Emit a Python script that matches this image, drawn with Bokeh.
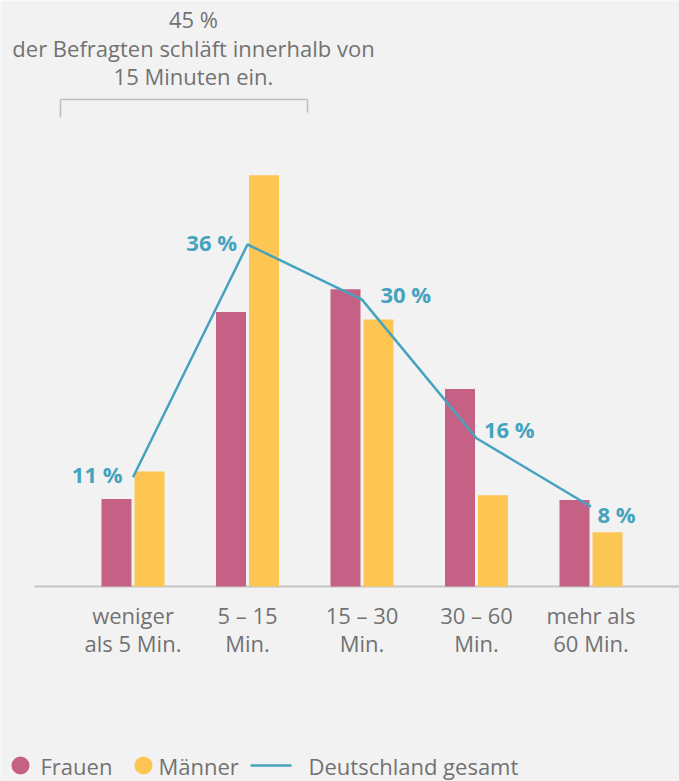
from bokeh.plotting import figure
from bokeh.models import ColumnDataSource, Range1d
from bokeh.core.properties import value
from bokeh.embed import file_html
from bokeh.resources import INLINE

# ---------------- data ----------------
categories = ["weniger\nals 5 Min.", "5 – 15\nMin.", "15 – 30\nMin.", "30 – 60\nMin.", "mehr als\n60 Min."]
frauen = [9.2, 28.9, 31.3, 20.8, 9.1]
maenner = [12.1, 43.3, 28.1, 9.6, 5.7]
gesamt = [11.5, 36.0, 30.2, 15.6, 8.4]
gesamt_labels = ["11 %", "36 %", "30 %", "16 %", "8 %"]
legend_labels = ["Frauen", "Männer", "Deutschland gesamt"]
note_lines = ["45 %", "der Befragten schläft innerhalb von", "15 Minuten ein."]

# ---------------- styling ----------------
BG = "#f2f2f2"
PINK = "#c66186"
YELLOW = "#fdc652"
TEAL = "#45a3be"
GREY_TXT = "#727272"
FONT = value("Open Sans")
FS = "22px"

# pixel geometry helpers (layout only)
X0, DXP = 132.5, 114.5   # x of first category centre, px per category
Y0, DYP = 586.0, 9.5     # y of baseline, px per percent


def dx(xp):
    return (xp - X0) / DXP


def dy(yp):
    return (Y0 - yp) / DYP


W, H = 679, 781
p = figure(width=W, height=H, output_backend="svg", toolbar_location=None,
           x_range=Range1d(dx(0), dx(W)), y_range=Range1d(dy(H), dy(0)),
           min_border=0, outline_line_color=None)
p.background_fill_color = BG
p.border_fill_color = BG
p.axis.visible = False
p.grid.visible = False

xs = list(range(len(categories)))
bar_w = 30 / DXP
off = 16.5 / DXP

src = ColumnDataSource(dict(
    x=xs,
    xf=[x - off for x in xs],
    xm=[x + off for x in xs],
    frauen=frauen, maenner=maenner, gesamt=gesamt,
    lab=gesamt_labels,
    line1=[c.split("\n")[0] for c in categories],
    line2=[c.split("\n")[1] for c in categories],
    lx=[-10.5, -10.5, 18.5, 7.5, 6.5],
    ly=[-3, -3, -6, -9, 7],
    la=["right", "right", "left", "left", "left"],
))

# baseline
p.segment(x0=dx(34), y0=0, x1=dx(679), y1=0, line_color="#c4c4c4", line_width=2)

# bars
p.vbar(x="xf", top="frauen", width=bar_w, bottom=0, source=src, fill_color=PINK, line_color=None)
p.vbar(x="xm", top="maenner", width=bar_w, bottom=0, source=src, fill_color=YELLOW, line_color=None)

# line
p.line(x="x", y="gesamt", source=src, line_color=TEAL, line_width=2.5)
p.text(x="x", y="gesamt", text="lab", source=src, x_offset="lx", y_offset="ly",
       text_align="la", text_baseline="middle", text_font=FONT, text_font_style="bold",
       text_font_size="22px", text_color=TEAL)

# category labels
p.text(x="x", y=dy(614), text="line1", source=src, text_align="center", text_baseline="middle",
       text_font=FONT, text_font_size=FS, text_color=GREY_TXT)
p.text(x="x", y=dy(642), text="line2", source=src, text_align="center", text_baseline="middle",
       text_font=FONT, text_font_size=FS, text_color=GREY_TXT)

# note on top
p.text(x=[dx(193)] * 3, y=[dy(18), dy(47), dy(75)], text=note_lines, text_align="center",
       text_baseline="middle", text_font=FONT, text_font_size=FS, text_color=GREY_TXT)

# bracket
p.segment(x0=[dx(60), dx(60), dx(307)], y0=[dy(99), dy(99), dy(99)],
          x1=[dx(307), dx(60), dx(307)], y1=[dy(99), dy(117), dy(112)],
          line_color="#bdbdbd", line_width=1.5)

# legend (manual)
ly = dy(765)
p.scatter(x=[dx(20), dx(143)], y=[ly, ly], size=18, marker="circle",
          fill_color=[PINK, YELLOW], line_color=None)
p.segment(x0=dx(250), y0=ly, x1=dx(291), y1=ly, line_color=TEAL, line_width=2.5)
p.text(x=[dx(40), dx(158), dx(308)], y=[ly] * 3, text=legend_labels, text_align="left",
       text_baseline="middle", text_font=FONT, text_font_size=FS, text_color=GREY_TXT)

html = file_html(p, INLINE)
html = html.replace("<body>", '<body style="background:%s">' % BG, 1)
open("out.html", "w").write(html)
